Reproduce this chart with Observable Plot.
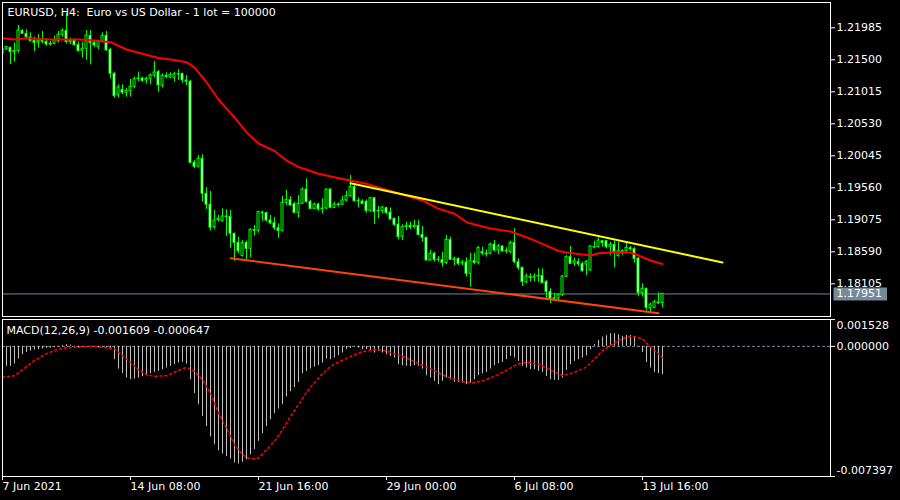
<!DOCTYPE html>
<html>
<head>
<meta charset="utf-8">
<script src="https://cdn.jsdelivr.net/npm/d3@7"></script>
<script src="https://cdn.jsdelivr.net/npm/@observablehq/plot@0.6"></script>
<style>
html, body { margin: 0; padding: 0; background: #000; }
#chart { width: 900px; height: 500px; overflow: hidden; background: #000; }
#chart svg { display: block; }
#chart text { white-space: pre; }
</style>
</head>
<body>
<div id="chart"></div>
<script>
// ---------- texts ----------
const symbolTitle = "EURUSD, H4:  Euro vs US Dollar - 1 lot = 100000";
const macdTitle = "MACD(12,26,9) -0.001609 -0.000647";

// ---------- time axis (bar index -> label) ----------
const xTicks = [0, 32, 64, 96, 128, 160];
const xTickLabels = ["7 Jun 2021", "14 Jun 08:00", "21 Jun 16:00", "29 Jun 00:00", "6 Jul 08:00", "13 Jul 16:00"];

// ---------- price axis ----------
const priceTicks = [1.21985, 1.21500, 1.21015, 1.20530, 1.20045, 1.19560, 1.19075, 1.18590, 1.18105];
const lastPrice = 1.17951;

// ---------- MACD axis ----------
const macdTicks = [0.001528, 0.000000, -0.007397];

// ---------- OHLC (H4 bars, oldest first) ----------
const open = [
1.21591,1.21656,1.21682,1.21616,1.21631,1.21934,1.21894,1.21838,1.21788,1.21757,
1.21783,1.21773,1.21732,1.21742,1.21778,1.21879,1.21939,1.21768,1.21788,1.21722,
1.21636,1.21667,1.21863,1.21757,1.21697,1.21768,1.21863,1.21651,1.21288,1.20960,
1.21045,1.21000,1.21025,1.21091,1.21207,1.21217,1.21187,1.21207,1.21263,1.21313,
1.21106,1.21257,1.21232,1.21227,1.21283,1.21283,1.21187,1.21167,1.19939,1.19879,
1.20000,1.19470,1.19303,1.18960,1.19071,
1.19054,1.19125,1.19120,1.18863,1.18726,1.18529,1.18721,1.18635,1.18918,1.18908,
1.19186,1.19176,1.19065,1.19024,1.18948,1.18908,1.19332,1.19373,1.19312,1.19181,
1.19317,1.19534,1.19347,1.19241,1.19307,1.19231,1.19246,1.19534,1.19256,1.19307,
1.19302,1.19368,1.19433,1.19570,1.19357,1.19352,1.19347,1.19206,1.19403,1.19201,
1.19206,1.19251,1.19186,1.19090,1.19004,1.18817,1.18964,1.18984,1.18964,1.18984,
1.18847,1.18802,1.18459,1.18560,1.18469,
1.18463,1.18418,1.18771,1.18468,1.18483,1.18413,1.18428,1.18256,1.18448,1.18423,
1.18589,1.18564,1.18559,1.18700,1.18610,1.18670,1.18594,1.18589,1.18726,1.18433,
1.18347,1.18125,1.18211,1.18195,1.18216,1.18226,1.18135,1.17983,1.17877,1.17882,
1.17933,1.18211,1.18509,1.18413,1.18433,1.18402,1.18397,1.18307,1.18665,1.18660,
1.18751,1.18751,1.18660,1.18695,1.18524,1.18599,1.18599,1.18645,1.18630,1.18488,
1.17963,1.18029,1.17731,1.17741,1.17822,1.17812
];
const high = [
1.21677,1.21707,1.21692,1.21757,1.22020,1.21959,1.21954,1.21909,1.21843,1.21879,
1.21929,1.21818,1.21778,1.21858,1.21929,1.21969,1.22202,1.21828,1.21818,1.21768,
1.21768,1.21944,1.21944,1.21793,1.21793,1.21909,1.21929,1.21677,1.21313,1.21121,
1.21121,1.21061,1.21202,1.21237,1.21313,1.21237,1.21237,1.21288,1.21475,1.21338,
1.21288,1.21303,1.21303,1.21313,1.21353,1.21298,1.21263,1.21187,1.19975,1.20050,
1.20061,1.19561,1.19505,1.19217,1.19142,
1.19241,1.19226,1.19216,1.18873,1.18812,1.18762,1.18751,1.18938,1.18989,1.19206,
1.19206,1.19191,1.19140,1.19105,1.19014,1.19428,1.19519,1.19428,1.19342,1.19443,
1.19559,1.19696,1.19368,1.19327,1.19327,1.19393,1.19544,1.19544,1.19342,1.19332,
1.19428,1.19509,1.19746,1.19595,1.19408,1.19378,1.19378,1.19418,1.19408,1.19277,
1.19277,1.19267,1.19256,1.19100,1.19125,1.18999,1.19039,1.19039,1.19065,1.19065,
1.18974,1.18812,1.18610,1.18585,1.18519,
1.18584,1.18837,1.18812,1.18509,1.18498,1.18458,1.18498,1.18569,1.18569,1.18670,
1.18660,1.18620,1.18721,1.18761,1.18700,1.18685,1.18650,1.18751,1.18938,1.18483,
1.18357,1.18256,1.18256,1.18256,1.18332,1.18332,1.18155,1.18029,1.17963,1.17953,
1.18231,1.18534,1.18670,1.18498,1.18483,1.18433,1.18458,1.18685,1.18751,1.18801,
1.18761,1.18761,1.18736,1.18751,1.18736,1.18620,1.18736,1.18670,1.18660,1.18498,
1.18105,1.18039,1.17812,1.17852,1.17968,1.17963
];
const low = [
1.21576,1.21641,1.21429,1.21465,1.21601,1.21884,1.21808,1.21768,1.21626,1.21677,
1.21742,1.21707,1.21707,1.21727,1.21757,1.21843,1.21742,1.21727,1.21707,1.21616,
1.21525,1.21490,1.21424,1.21687,1.21656,1.21757,1.21631,1.21212,1.20919,1.20919,
1.20970,1.20934,1.20934,1.21061,1.21172,1.21161,1.21136,1.21121,1.21227,1.21010,
1.21071,1.21212,1.21212,1.21161,1.21187,1.21146,1.21111,1.19924,1.19849,1.19859,
1.19344,1.19232,1.18904,1.18929,1.19041,
1.19039,1.18822,1.18645,1.18448,1.18560,1.18509,1.18469,1.18499,1.18827,1.18873,
1.19054,1.19039,1.18999,1.18913,1.18797,1.18888,1.19292,1.19277,1.19165,1.19100,
1.19307,1.19332,1.19226,1.19226,1.19206,1.19165,1.19226,1.19241,1.19246,1.19267,
1.19292,1.19342,1.19418,1.19337,1.19256,1.19302,1.19176,1.19191,1.19004,1.19090,
1.19165,1.19150,1.19065,1.18974,1.18772,1.18762,1.18913,1.18923,1.18938,1.18827,
1.18736,1.18448,1.18448,1.18433,1.18433,
1.18357,1.18397,1.18458,1.18382,1.18382,1.18382,1.18206,1.18054,1.18397,1.18392,
1.18534,1.18509,1.18544,1.18584,1.18549,1.18584,1.18559,1.18559,1.18408,1.18307,
1.18064,1.18105,1.18130,1.18130,1.18130,1.18105,1.17852,1.17802,1.17852,1.17842,
1.17913,1.18195,1.18397,1.18367,1.18367,1.18281,1.18231,1.18296,1.18635,1.18645,
1.18660,1.18635,1.18534,1.18347,1.18509,1.18534,1.18584,1.18599,1.18418,1.17913,
1.17903,1.17690,1.17675,1.17726,1.17791,1.17741
];
const close = [
1.21667,1.21692,1.21616,1.21636,1.21944,1.21894,1.21843,1.21788,1.21757,1.21783,
1.21773,1.21732,1.21747,1.21803,1.21879,1.21939,1.21768,1.21788,1.21722,1.21631,
1.21667,1.21869,1.21757,1.21717,1.21768,1.21863,1.21641,1.21288,1.20949,1.21081,
1.21000,1.21030,1.21091,1.21207,1.21217,1.21182,1.21212,1.21263,1.21308,1.21111,
1.21257,1.21237,1.21268,1.21283,1.21278,1.21187,1.21167,1.19939,1.19879,1.20000,
1.19470,1.19303,1.18955,1.19066,1.19091,
1.19125,1.19115,1.18863,1.18726,1.18600,1.18721,1.18635,1.18923,1.18908,1.19191,
1.19171,1.19065,1.19019,1.18948,1.18908,1.19332,1.19373,1.19292,1.19181,1.19317,
1.19534,1.19342,1.19241,1.19307,1.19231,1.19246,1.19534,1.19256,1.19307,1.19297,
1.19368,1.19433,1.19570,1.19357,1.19362,1.19317,1.19206,1.19403,1.19191,1.19211,
1.19261,1.19176,1.19080,1.18999,1.18812,1.18964,1.18984,1.18958,1.18984,1.18847,
1.18802,1.18459,1.18560,1.18469,1.18464,
1.18418,1.18771,1.18468,1.18488,1.18408,1.18428,1.18256,1.18448,1.18423,1.18650,
1.18564,1.18549,1.18700,1.18610,1.18670,1.18594,1.18604,1.18726,1.18433,1.18347,
1.18130,1.18216,1.18195,1.18216,1.18226,1.18115,1.17978,1.17877,1.17887,1.17938,
1.18216,1.18509,1.18408,1.18448,1.18402,1.18296,1.18438,1.18670,1.18655,1.18761,
1.18721,1.18660,1.18695,1.18569,1.18599,1.18579,1.18650,1.18625,1.18483,1.17963,
1.18029,1.17741,1.17791,1.17827,1.17807,1.17951
];

// ---------- moving average (red), read at sample bars ----------
const maIdx = [0,3,6,12,19,23,27,31,35,39,43,46,48,51,54,58,61,64,68,71,74,79,85,91,98,105,109,113,116,119,122,127,131,134,139,141,145,147,149,153,157,159,162,165];
const maVal = [1.21827,1.21808,1.21827,1.21808,1.21808,1.21793,1.21767,1.21656,1.21591,1.21527,1.21497,1.21464,1.21383,1.21160,1.20898,1.20626,1.20403,1.20231,1.20118,1.19974,1.19875,1.19772,1.19693,1.19621,1.19493,1.19368,1.19242,1.19166,1.19039,1.18989,1.18943,1.18898,1.18811,1.18736,1.18602,1.18580,1.18549,1.18534,1.18569,1.18584,1.18580,1.18534,1.18458,1.18405];

// ---------- trend lines ----------
const upperTrendIdx = [87, 180];
const upperTrendPrice = [1.19630, 1.18428];
const lowerTrendIdx = [57, 164];
const lowerTrendPrice = [1.18493, 1.17659];

// ---------- MACD histogram (one per bar) ----------
const macdHist = [
-0.001270,-0.001137,-0.001137,-0.001004,-0.000720,-0.000474,-0.000341,-0.000265,-0.000208,-0.000190,
-0.000152,-0.000114,-0.000095,-0.000076,-0.000038,0.000057,0.000095,0.000076,-0.000038,-0.000095,
-0.000038,-0.000019,-0.000010,-0.000057,-0.000095,-0.000057,-0.000095,-0.000114,-0.000758,-0.001289,
-0.001554,-0.001800,-0.001895,-0.001857,-0.001800,-0.001724,-0.001668,-0.001554,-0.001478,-0.001421,
-0.001327,-0.001232,-0.001137,-0.001042,-0.000948,-0.000910,-0.001004,-0.001895,-0.002691,-0.003316,
-0.003980,-0.004548,-0.005154,-0.005590,-0.005931,-0.006121,-0.006254,-0.006405,-0.006633,-0.006689,
-0.006595,-0.006443,-0.006159,-0.005875,-0.005401,-0.004965,-0.004548,-0.004169,-0.003828,-0.003563,
-0.003316,-0.002880,-0.002577,-0.002350,-0.002047,-0.001554,-0.001421,-0.001289,-0.001175,-0.001099,
-0.000948,-0.000720,-0.000758,-0.000663,-0.000531,-0.000379,-0.000190,-0.000114,-0.000038,-0.000095,
-0.000190,-0.000190,-0.000284,-0.000379,-0.000284,-0.000379,-0.000474,-0.000569,-0.000663,-0.001042,
-0.001099,-0.001137,-0.001137,-0.001099,-0.001137,-0.001289,-0.001668,-0.001800,-0.001990,-0.002179,
-0.001990,-0.001800,-0.001895,-0.002047,-0.002047,-0.002085,-0.002179,-0.002085,-0.001895,-0.001668,
-0.001554,-0.001478,-0.001289,-0.001099,-0.000985,-0.000910,-0.000758,-0.000569,-0.000663,-0.000853,
-0.001137,-0.001232,-0.001327,-0.001327,-0.001421,-0.001478,-0.001706,-0.001895,-0.001933,-0.001933,
-0.001800,-0.001364,-0.001042,-0.000853,-0.000758,-0.000663,-0.000531,-0.000190,0.000095,0.000341,
0.000531,0.000606,0.000720,0.000720,0.000663,0.000569,0.000625,0.000625,0.000531,-0.000038,
-0.000341,-0.000910,-0.001232,-0.001478,-0.001554,-0.001609
];

// ---------- MACD signal (red dotted), read at sample bars ----------
const sigIdx = [0,3,5,8,11,14,18,23,26,28,30,32,34,36,38,41,44,46,48,50,52,54,56,58,60,62,64,66,68,70,72,74,76,78,80,82,84,86,88,90,92,94,96,98,100,102,104,106,108,110,112,114,116,118,120,122,124,126,128,130,132,134,136,138,140,142,144,146,148,150,152,154,156,158,160,162,164,165];
const sigVal = [-0.001762,-0.001668,-0.001327,-0.000796,-0.000417,-0.000152,-0.000038,0.000000,-0.000076,-0.000152,-0.000531,-0.000910,-0.001327,-0.001611,-0.001706,-0.001668,-0.001364,-0.001194,-0.001421,-0.001895,-0.002653,-0.003790,-0.004643,-0.005590,-0.006159,-0.006405,-0.006348,-0.005875,-0.005401,-0.004738,-0.003980,-0.003316,-0.002615,-0.002047,-0.001554,-0.001137,-0.000891,-0.000682,-0.000474,-0.000303,-0.000227,-0.000190,-0.000265,-0.000417,-0.000569,-0.000758,-0.000985,-0.001175,-0.001383,-0.001611,-0.001800,-0.001933,-0.002047,-0.002066,-0.001952,-0.001800,-0.001592,-0.001364,-0.001099,-0.000910,-0.000929,-0.001023,-0.001232,-0.001478,-0.001649,-0.001554,-0.001383,-0.001175,-0.000720,-0.000246,0.000057,0.000341,0.000512,0.000569,0.000417,-0.000038,-0.000417,-0.000647];

// ---------- build tables ----------
const bars = open.map((o, k) => ({i: k, open: o, high: high[k], low: low[k], close: close[k]}));
const ma = maIdx.map((k, j) => ({i: k, v: maVal[j]}));
const upperTrend = upperTrendIdx.map((k, j) => ({i: k, p: upperTrendPrice[j]}));
const lowerTrend = lowerTrendIdx.map((k, j) => ({i: k, p: lowerTrendPrice[j]}));
const histRows = macdHist.map((v, k) => ({i: k, v}));
const sigRows = sigIdx.map((k, j) => ({i: k, v: sigVal[j]}));

const FONT = "DejaVu Sans";
const baseStyle = {background: "#000", color: "#fff", fontFamily: FONT, fontSize: "11px", overflow: "visible"};
const xOpts = {domain: [0, 165], range: [2, 662], axis: null, label: null};

const main = Plot.plot({
  width: 900, height: 318,
  marginLeft: 2, marginRight: 70, marginTop: 2, marginBottom: 2,
  style: baseStyle,
  x: xOpts,
  y: {domain: [1.18105, 1.21985], range: [283.3, 27.3], axis: null, label: null},
  color: {type: "identity"},
  marks: [
    Plot.ruleY([lastPrice], {stroke: "#778899"}),
    Plot.ruleX(bars, {x: "i", y1: "low", y2: "high", stroke: "#00ff00", clip: true}),
    Plot.rect(bars, {
      x1: d => d.i - 0.25, x2: d => d.i + 0.25,
      y1: "open", y2: "close",
      fill: d => d.close < d.open ? "#ffffff" : "#000000",
      stroke: "#00ff00", clip: true
    }),
    Plot.line(ma, {x: "i", y: "v", stroke: "#ff0000", strokeWidth: 2, clip: true}),
    Plot.line(upperTrend, {x: "i", y: "p", stroke: "#ffff00", strokeWidth: 2, clip: true}),
    Plot.line(lowerTrend, {x: "i", y: "p", stroke: "#ff4500", strokeWidth: 2, clip: true}),
    Plot.frame({stroke: "#ffffff"}),
    Plot.axisY(priceTicks, {anchor: "right", label: null, tickSize: 4, tickPadding: 2, tickFormat: d => d.toFixed(5), color: "#ffffff"}),
    Plot.text([lastPrice], {y: d => d, frameAnchor: "right", dx: 6, textAnchor: "start", text: d => d.toFixed(5), fill: "#ffffff", className: "price-label"}),
    Plot.text([symbolTitle], {frameAnchor: "top-left", dx: 5, dy: 10, textAnchor: "start", lineAnchor: "middle", text: d => d, fill: "#ffffff"})
  ]
});

const macdPlot = Plot.plot({
  width: 900, height: 182,
  marginLeft: 2, marginRight: 70, marginTop: 1, marginBottom: 24,
  style: baseStyle,
  x: xOpts,
  y: {domain: [-0.007397, 0.001528], range: [158, 1], axis: null, label: null},
  marks: [
    Plot.ruleY([0], {stroke: "#778899", strokeDasharray: "3,2"}),
    Plot.ruleX(histRows, {x: "i", y1: 0, y2: "v", stroke: "#c0c0c0"}),
    Plot.line(sigRows, {x: "i", y: "v", stroke: "#ff0000", strokeDasharray: "2,3"}),
    Plot.frame({stroke: "#ffffff"}),
    Plot.axisX(xTicks, {anchor: "bottom", label: null, tickSize: 4, tickPadding: 2, textAnchor: "start",
      tickFormat: d => xTickLabels[xTicks.indexOf(d)], color: "#ffffff"}),
    Plot.axisY(macdTicks, {anchor: "right", label: null, tickSize: 4, tickFormat: () => "", color: "#ffffff"}),
    Plot.text([macdTicks[0]], {y: d => d, frameAnchor: "right", dx: 6, dy: 6, textAnchor: "start", text: d => d.toFixed(6), fill: "#ffffff"}),
    Plot.text([macdTicks[1]], {y: d => d, frameAnchor: "right", dx: 6, textAnchor: "start", text: d => d.toFixed(6), fill: "#ffffff"}),
    Plot.text([macdTicks[2]], {y: d => d, frameAnchor: "right", dx: 6, dy: -6, textAnchor: "start", text: d => d.toFixed(6), fill: "#ffffff"}),
    Plot.text([macdTitle], {frameAnchor: "top-left", dx: 4, dy: 11, textAnchor: "start", lineAnchor: "middle", text: d => d, fill: "#ffffff"})
  ]
});

const chart = document.getElementById("chart");
chart.appendChild(main);
chart.appendChild(macdPlot);

// background box behind the current-price label
const t = main.querySelector(".price-label text");
if (t) {
  const bb = t.getBBox();
  const r = document.createElementNS("http://www.w3.org/2000/svg", "rect");
  r.setAttribute("x", bb.x - 3);
  r.setAttribute("y", bb.y);
  r.setAttribute("width", bb.width + 8);
  r.setAttribute("height", bb.height);
  r.setAttribute("fill", "#778899");
  if (t.getAttribute("transform")) r.setAttribute("transform", t.getAttribute("transform"));
  t.parentNode.insertBefore(r, t);
}
</script>
</body>
</html>
